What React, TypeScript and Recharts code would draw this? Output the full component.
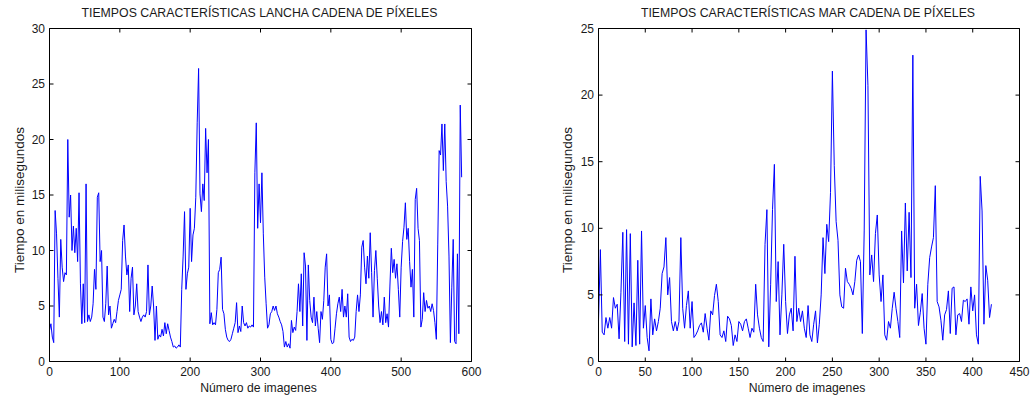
import { LineChart, Line, XAxis, YAxis } from 'recharts'

// frame number step between the values
const FRAME_STEP = 2

const LANCHA_X_TICKS = [0, 100, 200, 300, 400, 500, 600]
const LANCHA_Y_TICKS = [0, 5, 10, 15, 20, 25, 30]
const MAR_X_TICKS = [0, 50, 100, 150, 200, 250, 300, 350, 400, 450]
const MAR_Y_TICKS = [0, 5, 10, 15, 20, 25]

// ms per image, lancha sequence (frames 0..586, every 2nd frame)
const lanchaTimes = [
  2.8, 3.4, 2.2, 1.7, 13.6, 11.5, 7.5, 4.0, 11.0, 8.5,
  7.2, 8.0, 7.8, 20.0, 13.0, 15.0, 10.0, 12.2, 9.8, 12.0,
  9.0, 15.2, 7.0, 3.4, 7.0, 3.5, 16.0, 3.6, 4.2, 3.6,
  4.0, 5.2, 8.3, 6.5, 14.8, 15.2, 9.0, 10.0, 4.0, 3.6,
  5.2, 8.6, 4.2, 5.0, 3.0, 3.4, 3.8, 3.5, 4.5, 5.5,
  6.0, 6.5, 10.9, 12.3, 9.5, 7.8, 8.7, 4.5, 7.5, 8.5,
  4.2, 5.0, 7.0, 4.5, 4.0, 3.6, 4.0, 4.2, 4.0, 4.5,
  8.7, 4.2, 5.0, 6.8, 5.0, 1.9, 5.0, 2.0, 2.4, 2.2,
  2.9, 2.3, 3.5, 2.5, 3.4, 2.8, 2.2, 1.8, 1.3, 1.4,
  1.2, 1.3, 1.5, 1.3, 6.5, 9.5, 13.5, 6.5, 7.9, 8.5,
  13.8, 9.0, 11.4, 12.0, 14.8, 21.5, 26.4, 15.1, 13.5, 16.0,
  14.5, 21.0, 17.0, 20.0, 3.4, 4.4, 3.3, 3.5, 3.3, 4.7,
  8.0, 8.3, 9.4, 4.7, 4.3, 2.9, 2.2, 1.9, 1.8, 2.0,
  2.5, 3.0, 3.5, 5.3, 2.6, 3.2, 2.7, 5.0, 3.5, 3.2,
  3.5, 3.0, 3.2, 3.1, 3.3, 3.1, 17.0, 21.5, 12.0, 16.0,
  12.5, 17.0, 11.5, 7.6, 5.2, 3.0, 3.3, 4.3, 4.5, 5.0,
  4.6, 5.0, 4.3, 4.0, 3.6, 3.3, 2.7, 1.3, 1.8, 1.3,
  1.6, 1.2, 3.7, 2.6, 3.1, 2.8, 4.5, 7.0, 4.5, 7.9,
  3.2, 9.8, 8.6, 1.9, 8.7, 5.5, 4.0, 3.5, 5.8, 3.2,
  4.5, 3.0, 1.7, 4.5, 3.8, 5.5, 8.5, 9.7, 5.0, 6.0,
  2.0, 1.6, 1.7, 3.0, 4.3, 5.2, 5.8, 4.5, 6.5, 4.0,
  5.0, 4.0, 6.1, 2.2, 1.8, 2.0, 1.9, 2.2, 4.5, 6.0,
  4.5, 6.0, 10.3, 10.9, 8.5, 7.0, 9.5, 7.5, 11.6, 8.0,
  4.0, 8.2, 10.0, 7.5, 5.0, 3.5, 4.5, 3.3, 5.8, 3.5,
  4.3, 3.1, 6.8, 10.2, 8.0, 9.2, 7.5, 8.8, 6.5, 4.0,
  8.5, 10.8, 12.1, 14.3, 11.0, 12.0, 9.0, 6.7, 8.3, 4.0,
  14.6, 15.6, 12.0, 10.9, 3.1, 3.8, 6.2, 4.5, 5.5, 4.8,
  5.0, 4.5, 5.2, 4.6, 3.5, 2.0, 10.5, 19.0, 18.6, 21.4,
  17.2, 21.4, 16.2, 14.0, 9.5, 1.7, 6.7, 11.0, 1.8, 1.6,
  9.7, 2.5, 23.1, 16.6,
]

// ms per image, mar sequence (frames 0..420, every 2nd frame)
const marTimes = [
  3.0, 8.4, 2.2, 2.0, 3.3, 2.5, 3.3, 2.5, 4.8, 4.0,
  4.3, 1.7, 5.2, 9.7, 1.5, 9.9, 1.3, 9.6, 1.1, 4.4,
  1.2, 7.6, 1.3, 9.8, 2.5, 4.2, 1.8, 0.8, 4.7, 2.0,
  3.2, 2.3, 3.0, 4.0, 6.6, 7.1, 9.3, 5.0, 6.3, 3.0,
  2.3, 3.0, 2.3, 3.0, 9.3, 4.0, 2.5, 4.2, 5.3, 2.5,
  4.5, 1.8, 2.0, 2.3, 2.7, 2.9, 2.2, 3.6, 2.5, 1.6,
  3.8, 3.5, 4.95, 5.8, 4.5, 2.0, 1.8, 2.3, 1.5, 3.4,
  3.2, 2.7, 1.2, 2.0, 1.5, 3.0, 2.8, 2.3, 3.0, 3.2,
  2.5, 1.8, 2.5, 2.2, 5.8, 3.5, 2.5, 1.8, 1.5, 8.8,
  11.4, 1.1, 5.8, 11.4, 14.8, 4.5, 7.5, 2.0, 5.0, 8.8,
  4.5, 2.1, 3.5, 4.0, 2.3, 7.9, 3.0, 4.0, 3.0, 3.8,
  2.5, 1.8, 4.2, 2.0, 1.5, 2.8, 3.8, 1.4, 2.8, 5.0,
  9.3, 6.6, 10.3, 9.0, 12.7, 21.8, 14.7, 10.5, 9.1, 5.0,
  4.1, 4.0, 7.0, 6.0, 5.8, 5.5, 5.0, 6.0, 7.6, 8.0,
  7.5, 2.1, 9.8, 24.9, 20.7, 6.5, 8.0, 6.0, 9.6, 11.0,
  6.5, 4.5, 6.5, 2.0, 1.6, 3.0, 2.5, 4.0, 5.2, 4.0,
  3.0, 1.8, 9.8, 5.9, 11.9, 6.8, 11.2, 6.3, 23.0, 4.0,
  5.8, 2.7, 3.7, 5.1, 2.5, 1.3, 5.8, 7.8, 8.6, 9.3,
  13.2, 4.5, 4.1, 3.1, 1.6, 3.5, 3.9, 5.3, 2.1, 5.5,
  5.6, 2.0, 3.5, 3.6, 3.0, 4.6, 4.5, 4.7, 2.8, 5.6,
  3.8, 5.0, 2.0, 1.3, 13.9, 11.3, 2.8, 7.2, 6.1, 3.3,
  4.3,
]

const FONT = '"Liberation Sans", Arial, Helvetica, sans-serif'
const TEXT = '#1a1a1a'
const TICK_LEN = 4
const TICK_FONT = 12

type Side = 'bottom' | 'top' | 'left' | 'right'

const makeTick = (side: Side, withLabel: boolean) => (props: any) => {
  const { x, y, payload } = props
  const txt = { fill: TEXT, fontSize: TICK_FONT, fontFamily: FONT }
  let line = null
  let label = null
  if (side === 'bottom') {
    line = <line x1={x} y1={y} x2={x} y2={y - TICK_LEN} stroke="#000" />
    if (withLabel) label = <text x={x} y={y + 10} textAnchor="middle" dominantBaseline="central" {...txt}>{payload.value}</text>
  } else if (side === 'top') {
    line = <line x1={x} y1={y} x2={x} y2={y + TICK_LEN} stroke="#000" />
  } else if (side === 'left') {
    line = <line x1={x} y1={y} x2={x + TICK_LEN} y2={y} stroke="#000" />
    if (withLabel) label = <text x={x - 4.5} y={y} textAnchor="end" dominantBaseline="central" {...txt}>{payload.value}</text>
  } else {
    line = <line x1={x} y1={y} x2={x - TICK_LEN} y2={y} stroke="#000" />
  }
  return <g>{line}{label}</g>
}

interface PanelProps {
  title: string
  values: number[]
  xMax: number
  yMax: number
  xTicks: number[]
  yTicks: number[]
  left: number
  width: number
  plotLeft: number
  plotRight: number
  yLabelX: number
}

const PLOT_TOP = 28.5
const PLOT_BOTTOM = 361.5
const HEIGHT = 398
// axes get 1px of room so that recharts draws them
const AXIS = 1

function Panel({ title, values, xMax, yMax, xTicks, yTicks, left, width, plotLeft, plotRight, yLabelX }: PanelProps) {
  const data = values.map((t, i) => ({ frame: i * FRAME_STEP, t }))
  const center = (plotLeft + plotRight) / 2
  const axisCommon = { tickSize: 0, tickMargin: 0, tickLine: false, stroke: '#000', allowDataOverflow: true }

  return (
    <>
      <div style={{ position: 'absolute', left, top: 0, width, height: HEIGHT }}>
        <LineChart
          width={width} height={HEIGHT} data={data}
          margin={{
            top: PLOT_TOP - AXIS,
            left: plotLeft - left - AXIS,
            right: left + width - plotRight - AXIS,
            bottom: HEIGHT - PLOT_BOTTOM - AXIS,
          }}
        >
          <XAxis xAxisId="b" dataKey="frame" type="number" domain={[0, xMax]} ticks={xTicks} interval={0}
            orientation="bottom" height={AXIS} tick={makeTick('bottom', true)} {...axisCommon} />
          <XAxis xAxisId="t" dataKey="frame" type="number" domain={[0, xMax]} ticks={xTicks} interval={0}
            orientation="top" height={AXIS} tick={makeTick('top', false)} {...axisCommon} />
          <YAxis yAxisId="l" type="number" domain={[0, yMax]} ticks={yTicks} interval={0}
            orientation="left" width={AXIS} tick={makeTick('left', true)} {...axisCommon} />
          <YAxis yAxisId="r" type="number" domain={[0, yMax]} ticks={yTicks} interval={0}
            orientation="right" width={AXIS} tick={makeTick('right', false)} {...axisCommon} />
          <Line xAxisId="b" yAxisId="l" type="linear" dataKey="t" stroke="#0000ff" strokeWidth={1}
            dot={false} activeDot={false} isAnimationActive={false} />
          <Line xAxisId="t" yAxisId="r" type="linear" dataKey="t" stroke="none"
            dot={false} activeDot={false} isAnimationActive={false} />
        </LineChart>
      </div>
      <div style={{
        position: 'absolute', left: center - 1, top: 13, transform: 'translate(-50%, -50%)',
        fontFamily: FONT, fontSize: 12.3, color: TEXT, whiteSpace: 'nowrap',
      }}>{title}</div>
      <div style={{
        position: 'absolute', left: center - 2, top: 388, transform: 'translate(-50%, -50%)',
        fontFamily: FONT, fontSize: 12.2, color: TEXT, whiteSpace: 'nowrap',
      }}>Número de imagenes</div>
      <div style={{
        position: 'absolute', left: yLabelX, top: 200,
        transform: 'translate(-50%, -50%) rotate(-90deg)',
        fontFamily: FONT, fontSize: 13.5, color: TEXT, whiteSpace: 'nowrap',
      }}>Tiempo en milisegundos</div>
    </>
  )
}

export default function App() {
  return (
    <div style={{ position: 'absolute', left: 0, top: 0, width: 1034, height: HEIGHT, background: '#fff', overflow: 'hidden' }}>
      <Panel title="TIEMPOS CARACTERÍSTICAS LANCHA CADENA DE PÍXELES" values={lanchaTimes}
        xMax={600} yMax={30} xTicks={LANCHA_X_TICKS} yTicks={LANCHA_Y_TICKS}
        left={0} width={520} plotLeft={49.5} plotRight={471.5} yLabelX={19} />
      <Panel title="TIEMPOS CARACTERÍSTICAS MAR CADENA DE PÍXELES" values={marTimes}
        xMax={450} yMax={25} xTicks={MAR_X_TICKS} yTicks={MAR_Y_TICKS}
        left={540} width={494} plotLeft={598.5} plotRight={1019.5} yLabelX={567} />
    </div>
  )
}
